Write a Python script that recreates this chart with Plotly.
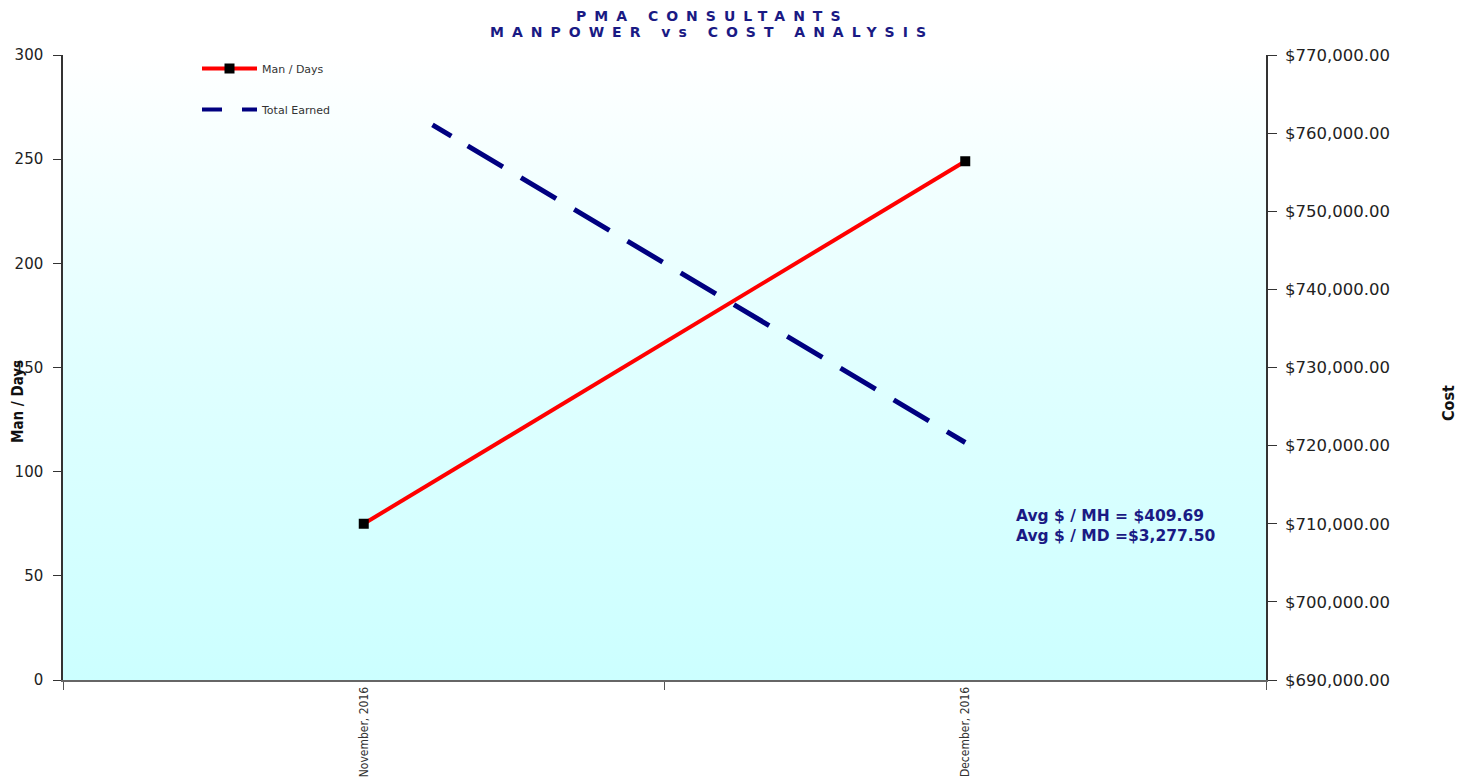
import base64
import plotly.graph_objects as go

# ---- data ----
months = ["November, 2016", "December, 2016"]
man_days = [75, 249]
total_earned = [766300, 720400]
avg_mh = "$409.69"
avg_md = "$3,277.50"
title_1 = "PMA CONSULTANTS"
title_2 = "MANPOWER vs COST ANALYSIS"

OFF = 8  # page body margin
W, H = 1474 - OFF, 778 - OFF
L, R, T, B = 63, 1266, 55, 680  # plot area in window pixels


def px_x(px):
    return (px - L) / (R - L)


def px_y(py):
    return (B - py) / (B - T)


NAVY = "#1a1a84"

svg = (
    '<svg xmlns="http://www.w3.org/2000/svg" width="100" height="100" '
    'viewBox="0 0 100 100" preserveAspectRatio="none"><defs>'
    '<linearGradient id="g" x1="0" y1="0" x2="0" y2="1">'
    '<stop offset="0" stop-color="#ffffff"/>'
    '<stop offset="0.5" stop-color="#e0ffff"/>'
    '<stop offset="1" stop-color="#ccffff"/>'
    '</linearGradient></defs>'
    '<rect width="100" height="100" fill="url(#g)"/></svg>'
)
bg_src = "data:image/svg+xml;base64," + base64.b64encode(svg.encode()).decode()

dash_pattern = "0px,80px,22px,19px," + ",".join(["41px,21px"] * 10)

NARROW = "Liberation Sans Narrow, DejaVu Sans Condensed, sans-serif"

fig = go.Figure()
fig.add_trace(go.Scatter(
    x=months, y=man_days, name="Man / Days", mode="lines+markers",
    line=dict(color="#ff0000", width=4),
    marker=dict(symbol="square", size=10, color="#000000"),
    legendgroup="a", yaxis="y",
))
fig.add_trace(go.Scatter(
    x=months, y=total_earned, name="Total Earned", mode="lines",
    line=dict(color="#000080", width=5, dash=dash_pattern),
    showlegend=False, yaxis="y2",
))
fig.add_trace(go.Scatter(
    x=[None], y=[None], name="Total Earned", mode="lines",
    line=dict(color="#000080", width=4, dash="longdash"),
    legendgroup="b", yaxis="y2",
))

fig.update_layout(
    width=W, height=H,
    margin=dict(l=L - OFF, r=1474 - R, t=T - OFF, b=778 - B, pad=0, autoexpand=False),
    paper_bgcolor="#ffffff",
    plot_bgcolor="rgba(0,0,0,0)",
    font=dict(family="DejaVu Sans", color="#333333"),
    xaxis=dict(
        type="category", categoryorder="array", categoryarray=months,
        range=[-0.5, 1.5], tickson="boundaries",
        ticks="outside", ticklen=8, tickcolor="#555555",
        tickangle=-90, automargin=False,
        tickfont=dict(family=NARROW, size=12, color="#333333"),
        showline=True, linecolor="#666666", linewidth=2,
        showgrid=False, zeroline=False, fixedrange=True,
    ),
    yaxis=dict(
        range=[0, 300], dtick=50, tick0=0, automargin=False,
        ticks="outside", ticklen=8, tickcolor="#333333",
        ticklabelstandoff=7,
        tickfont=dict(family="DejaVu Sans", size=15, color="#222222"),
        showline=True, linecolor="#333333", linewidth=1.5,
        showgrid=False, zeroline=False,
    ),
    yaxis2=dict(
        range=[690000, 770000], dtick=10000, tick0=690000,
        overlaying="y", side="right", anchor="x", automargin=False,
        tickformat="$,.2f",
        ticks="outside", ticklen=9, tickcolor="#333333",
        ticklabelstandoff=5,
        tickfont=dict(family="DejaVu Sans", size=16.5, color="#222222"),
        showline=True, linecolor="#333333", linewidth=1.5,
        showgrid=False, zeroline=False,
    ),
    legend=dict(
        x=px_x(197), y=px_y(54), xanchor="left", yanchor="top",
        bgcolor="rgba(0,0,0,0)", itemwidth=55, tracegroupgap=22,
        font=dict(family="DejaVu Sans", size=11, color="#333333"),
    ),
    showlegend=True,
    images=[dict(
        source=bg_src, xref="paper", yref="paper", x=0, y=1,
        sizex=1, sizey=1, xanchor="left", yanchor="top",
        sizing="stretch", layer="below",
    )],
)

for txt, py in [(title_1, 16), (title_2, 32)]:
    fig.add_annotation(
        text='<span style="letter-spacing:8px">' + txt + '</span>',
        x=px_x(712), y=px_y(py), xref="paper", yref="paper",
        xanchor="center", yanchor="middle", showarrow=False,
        font=dict(family="DejaVu Sans", size=14, color=NAVY, weight="bold"),
    )

fig.add_annotation(
    text="Avg $ / MH = " + avg_mh + "<br>Avg $ / MD =" + avg_md,
    x=px_x(1014), y=px_y(526), align="left",
    xref="paper", yref="paper", xanchor="left", yanchor="middle",
    showarrow=False,
    font=dict(family="DejaVu Sans", size=15.5, color=NAVY, weight="bold"),
)
fig.add_annotation(
    text="Man / Days", x=px_x(18), y=px_y(402), textangle=-90,
    xref="paper", yref="paper", xanchor="center", yanchor="middle",
    showarrow=False,
    font=dict(family=NARROW, size=15, color="#111111", weight="bold"),
)
fig.add_annotation(
    text="Cost", x=px_x(1448), y=px_y(403), textangle=-90,
    xref="paper", yref="paper", xanchor="center", yanchor="middle",
    showarrow=False,
    font=dict(family=NARROW, size=16, color="#111111", weight="bold"),
)

fig.write_html("out.html")
